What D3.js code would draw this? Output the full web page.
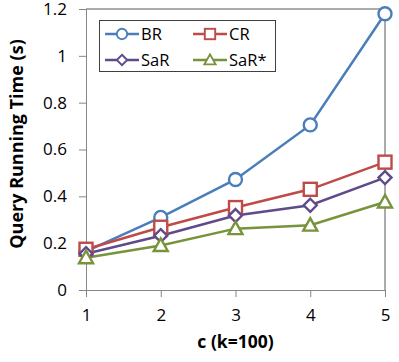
<!DOCTYPE html>
<html>
<head>
<meta charset="utf-8">
<script src="https://cdn.jsdelivr.net/npm/d3@7"></script>
<style>
  body { margin: 0; background: #fff; }
  text { font-family: "Open Sans", "Liberation Sans", sans-serif; }
</style>
</head>
<body>
<svg id="chart" width="399" height="362"></svg>
<script>
// x categories
const cValues = [1, 2, 3, 4, 5];
const yTicks = [0, 0.2, 0.4, 0.6, 0.8, 1, 1.2];

// series values (seconds)
const brValues = [0.165, 0.31, 0.472, 0.705, 1.18];
const crValues = [0.174, 0.268, 0.352, 0.43, 0.546];
const sarValues = [0.155, 0.232, 0.318, 0.362, 0.48];
const sarStarValues = [0.138, 0.19, 0.262, 0.277, 0.376];

const seriesNames = ["BR", "CR", "SaR", "SaR*"];
const seriesColors = ["#4a7ebb", "#be4b48", "#5f4a8b", "#77933c"];
const seriesShapes = ["circle", "square", "diamond", "triangle"];

const series = [brValues, crValues, sarValues, sarStarValues].map((vals, i) => ({
  name: seriesNames[i],
  color: seriesColors[i],
  shape: seriesShapes[i],
  values: vals.map((v, j) => ({ c: cValues[j], v: v })),
}));

const svg = d3.select("#chart");
const margins = { left: 86, top: 9, right: 14, bottom: 72 };
const innerW = 399 - margins.left - margins.right;
const innerH = 362 - margins.top - margins.bottom;

const x = d3.scaleLinear().domain([1, 5]).range([margins.left, margins.left + innerW]);
const y = d3.scaleLinear().domain([0, 1.2]).range([margins.top + innerH, margins.top]);

// Plot border (top and right)
svg.append("path")
  .attr("d", `M${x(1)},${y(1.2)}H${x(5)}V${y(0)}`)
  .attr("fill", "none")
  .attr("stroke", "#595959")
  .attr("stroke-width", 1);

// y axis
const yAxis = svg.append("g")
  .attr("transform", `translate(${x(1)},0)`)
  .call(d3.axisLeft(y).tickValues(yTicks).tickSize(7).tickPadding(12)
    .tickFormat((d) => d3.format("~g")(d)));
yAxis.selectAll("line, path").attr("stroke", "#868686");
yAxis.selectAll("text").attr("font-size", "17px").attr("fill", "#000")
  .style("font-family", '"Open Sans", "Liberation Sans", sans-serif');

// x axis
const xAxis = svg.append("g")
  .attr("transform", `translate(0,${y(0)})`)
  .call(d3.axisBottom(x).tickValues(cValues).tickSize(7).tickPadding(12)
    .tickFormat(d3.format("d")));
xAxis.selectAll("line, path").attr("stroke", "#868686");
xAxis.selectAll("text").attr("font-size", "17px").attr("fill", "#000")
  .style("font-family", '"Open Sans", "Liberation Sans", sans-serif');

// Axis titles
svg.append("text")
  .attr("x", x(3))
  .attr("y", 348)
  .attr("text-anchor", "middle")
  .attr("font-size", "17.5px")
  .attr("font-weight", "bold")
  .text("c (k=100)");

svg.append("text")
  .attr("transform", `translate(23, 144) rotate(-90)`)
  .attr("text-anchor", "middle")
  .attr("font-size", "18px")
  .attr("font-weight", "bold")
  .text("Query Running Time (s)");

// marker drawing
function drawMarker(g, shape, color) {
  if (shape === "circle") {
    g.append("circle").attr("r", 6.5);
  } else if (shape === "square") {
    g.append("rect").attr("x", -6.5).attr("y", -6.5).attr("width", 13).attr("height", 13);
  } else if (shape === "diamond") {
    g.append("path").attr("d", "M0,-6.5L6.5,0L0,6.5L-6.5,0Z");
  } else {
    g.append("path").attr("d", "M0,-7L7,5.5L-7,5.5Z");
  }
  g.selectAll("*").attr("fill", "#fff").attr("stroke", color).attr("stroke-width", 2.4);
}

const line = d3.line().x((d) => x(d.c)).y((d) => y(d.v));

// Lines and markers
series.forEach((s) => {
  svg.append("path")
    .datum(s.values)
    .attr("d", line)
    .attr("fill", "none")
    .attr("stroke", s.color)
    .attr("stroke-width", 2.5);
});
series.forEach((s) => {
  svg.append("g")
    .selectAll("g")
    .data(s.values)
    .join("g")
    .attr("transform", (d) => `translate(${x(d.c)},${y(d.v)})`)
    .each(function () { drawMarker(d3.select(this), s.shape, s.color); });
});

// Legend
const legend = svg.append("g");
legend.append("rect")
  .attr("x", 99.5).attr("y", 20.5)
  .attr("width", 176).attr("height", 51)
  .attr("fill", "#fff")
  .attr("stroke", "#404040")
  .attr("stroke-width", 1);

const legendPos = [[105, 34], [193, 34], [105, 60], [193, 60]];
series.forEach((s, i) => {
  const [lx, ly] = legendPos[i];
  const g = legend.append("g").attr("transform", `translate(${lx},${ly})`);
  g.append("line").attr("x1", 0).attr("x2", 34).attr("y1", 0).attr("y2", 0)
    .attr("stroke", s.color).attr("stroke-width", 2.5);
  const m = g.append("g").attr("transform", "translate(17,0) scale(0.8)");
  drawMarker(m, s.shape, s.color);
  g.append("text").attr("x", 36).attr("y", 0).attr("dy", "0.35em")
    .attr("font-size", "16.5px").text(s.name);
});
</script>
</body>
</html>
